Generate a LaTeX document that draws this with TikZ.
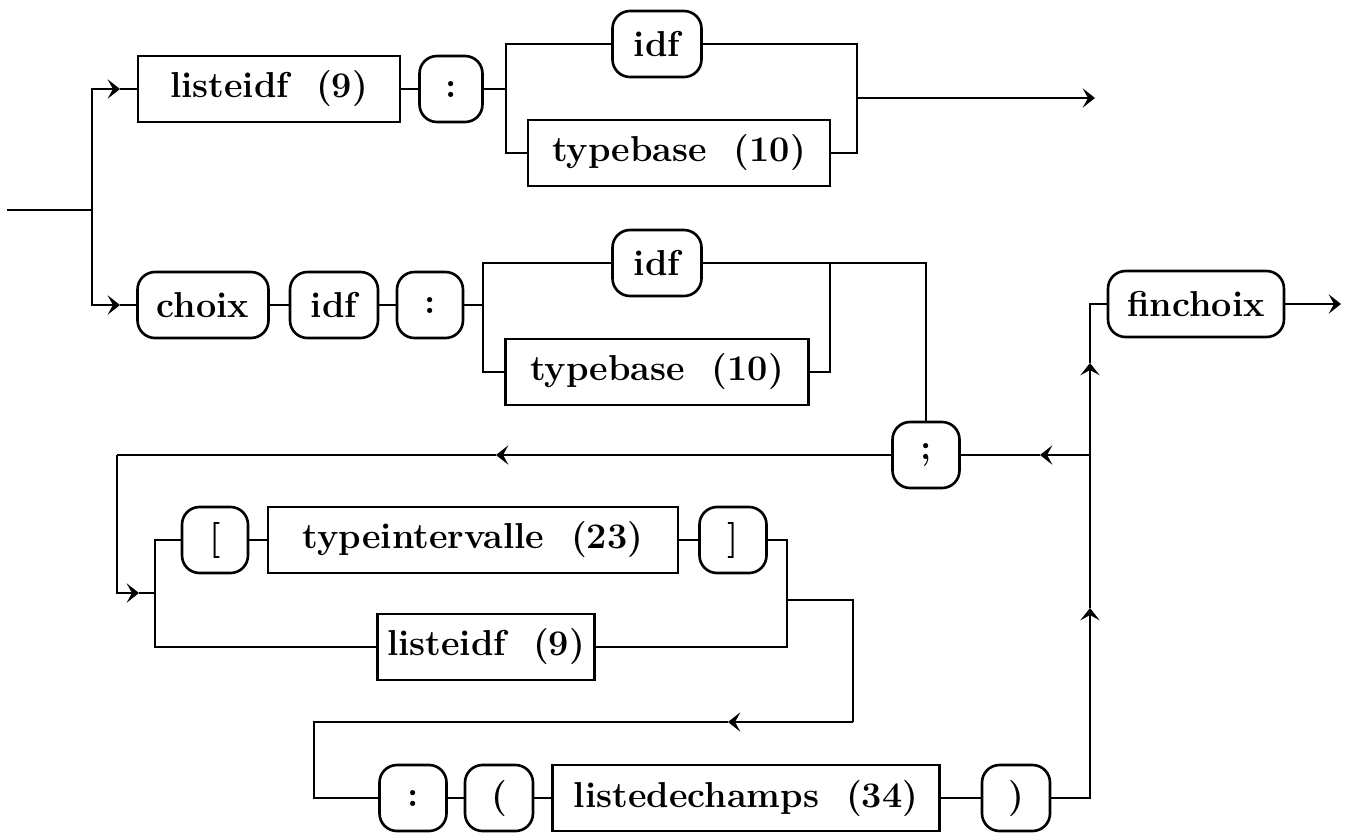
\documentclass[tikz,border=0pt]{standalone}
\usepackage{tikz}
\usetikzlibrary{arrows.meta, positioning, calc}

\begin{document}
\begin{tikzpicture}[x=0.02cm, y=-0.02cm,
        every node/.style={font=\fontsize{20.5}{24}\selectfont\bfseries},
        term/.style={draw, rounded corners=0.35cm, line width=1.5pt,
                     minimum height=1.32cm, inner sep=0pt},
        nterm/.style={draw, rectangle, line width=1.5pt,
                      minimum height=1.32cm, inner sep=0pt},
        line/.style={line width=1.5pt},
        arr/.style={line width=1.5pt, -{Stealth[length=7pt, width=11pt, inset=3pt]}}]
        \useasboundingbox (0,0) rectangle (1356,833);
        % first alternative
        \node[nterm, minimum width=5.24cm] (lid1) at (269,89) {listeidf~~(9)};
        \node[term, minimum width=1.26cm] (col1) at (451,89) {:};
        \node[term, minimum width=1.78cm] (idf1) at (657,44) {idf};
        \node[nterm, minimum width=6.04cm] (tb1) at (679,153) {typebase~~(10)};
        % second alternative
        \node[term, minimum width=2.62cm] (choix) at (203,305) {choix};
        \node[term, minimum width=1.76cm] (idf2) at (334,305) {idf};
        \node[term, minimum width=1.32cm] (col2) at (430,305) {:};
        \node[term, minimum width=1.78cm] (idf3) at (657,263) {idf};
        \node[nterm, minimum width=6.06cm] (tb2) at (657,372) {typebase~~(10)};
        \node[term, minimum width=1.34cm] (semi) at (926,455) {;};
        \node[term, minimum width=3.52cm] (fin) at (1196,304) {finchoix};
        % variant part
        \node[term, minimum width=1.32cm] (lbr) at (215,540) {[};
        \node[nterm, minimum width=8.2cm] (tint) at (473,540) {typeintervalle~~(23)};
        \node[term, minimum width=1.34cm] (rbr) at (733,540) {]};
        \node[nterm, minimum width=4.34cm] (lid2) at (486,647) {listeidf~~(9)};
        \node[term, minimum width=1.34cm] (col3) at (413,798) {:};
        \node[term, minimum width=1.36cm] (lpar) at (499,798) {(};
        \node[nterm, minimum width=7.74cm] (ldc) at (746,798) {listedechamps~~(34)};
        \node[term, minimum width=1.36cm] (rpar) at (1016,798) {)};
        % bends and arrow points
        \coordinate (start) at (7,210);
        \coordinate (br1) at (92,210);
        \coordinate (a1) at (120,89);
        \coordinate (a2) at (120,305);
        \coordinate (s1) at (506,89);
        \coordinate (j1) at (857,98);
        \coordinate (out1) at (1095,98);
        \coordinate (s2) at (483,305);
        \coordinate (j2) at (830,263);
        \coordinate (aS) at (496,455);
        \coordinate (loopL) at (117,455);
        \coordinate (a3) at (139,593);
        \coordinate (s3) at (155,593);
        \coordinate (j3) at (787,600);
        \coordinate (turnB) at (853,722);
        \coordinate (aB) at (728,722);
        \coordinate (bl) at (314,722);
        \coordinate (aU1) at (1090,608);
        \coordinate (aU2) at (1090,363);
        \coordinate (ret) at (1090,455);
        \coordinate (aR) at (1040,455);
        \coordinate (out2) at (1341,304);
        % connectors
        \draw[line] (start) -- (br1);
        \draw[arr] (br1) |- (a1);
        \draw[line] (a1) -- (lid1.west);
        \draw[arr] (br1) |- (a2);
        \draw[line] (a2) -- (choix.west);
        \draw[line] (lid1) -- (col1);
        \draw[line] (col1.east) -- (s1) |- (idf1.west);
        \draw[line] (s1) |- (tb1.west);
        \draw[line] (idf1.east) -| (j1);
        \draw[line] (tb1.east) -| (j1);
        \draw[arr] (j1) -- (out1);
        \draw[line] (choix) -- (idf2);
        \draw[line] (idf2) -- (col2);
        \draw[line] (col2.east) -- (s2) |- (idf3.west);
        \draw[line] (s2) |- (tb2.west);
        \draw[line] (tb2.east) -| (j2);
        \draw[line] (idf3.east) -| (semi.north);
        \draw[arr] (semi.west) -- (aS);
        \draw[line] (aS) -- (loopL);
        \draw[arr] (loopL) |- (a3);
        \draw[line] (a3) -- (s3);
        \draw[line] (s3) |- (lbr.west);
        \draw[line] (s3) |- (lid2.west);
        \draw[line] (lbr) -- (tint);
        \draw[line] (tint) -- (rbr);
        \draw[line] (rbr.east) -| (j3);
        \draw[line] (lid2.east) -| (j3);
        \draw[line] (j3) -| (turnB);
        \draw[arr] (turnB) -- (aB);
        \draw[line] (aB) -- (bl) |- (col3.west);
        \draw[line] (col3) -- (lpar);
        \draw[line] (lpar) -- (ldc);
        \draw[line] (ldc) -- (rpar);
        \draw[arr] (rpar.east) -| (aU1);
        \draw[arr] (aU1) -- (aU2);
        \draw[line] (aU2) |- (fin.west);
        \draw[arr] (ret) -- (aR);
        \draw[line] (aR) -- (semi.east);
        \draw[arr] (fin.east) -- (out2);
\end{tikzpicture}
\end{document}
